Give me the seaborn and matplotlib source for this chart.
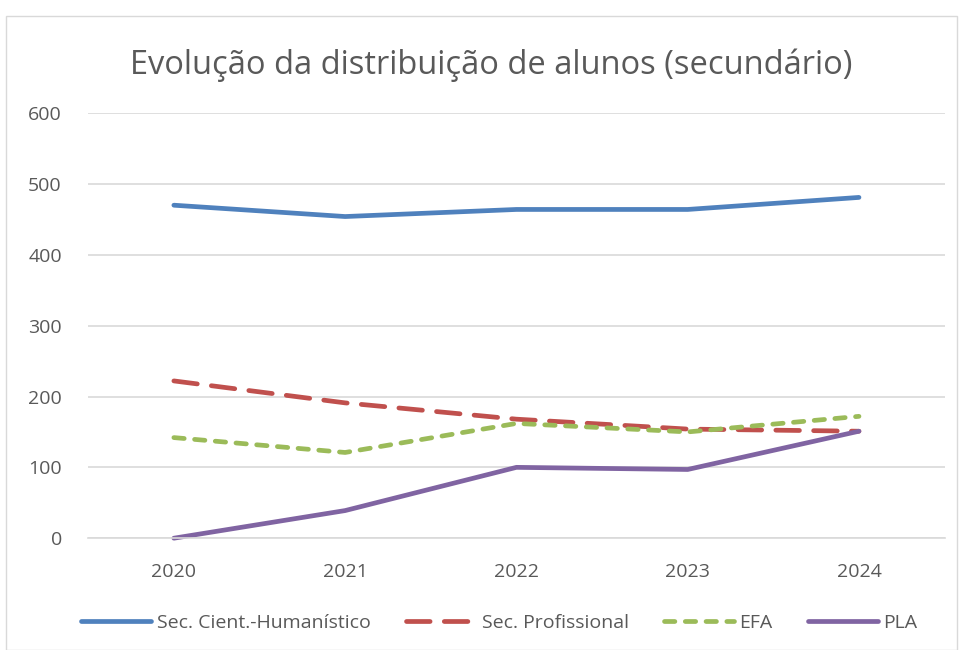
import pandas as pd
import seaborn as sns
import matplotlib.pyplot as plt
from matplotlib.patches import Rectangle

# Data
anos = ['2020', '2021', '2022', '2023', '2024']
cient_humanistico = [470, 454, 464, 464, 481]
profissional = [222, 191, 168, 154, 151]
efa = [142, 121, 162, 150, 172]
pla = [0, 39, 100, 97, 151]

series = ['Sec. Cient.-Humanístico', 'Sec. Profissional', 'EFA', 'PLA']
valores = [cient_humanistico, profissional, efa, pla]
cores = ['#4F81BD', '#C0504D', '#9BBB59', '#8064A2']
tracos = [(None, None), (5, 3), (2.2, 2.2), (None, None)]

rows = []
for nome, vals in zip(series, valores):
    for i, v in enumerate(vals):
        rows.append({'Ano': anos[i], 'x': i, 'Alunos': v, 'Serie': nome})
df = pd.DataFrame(rows)

sns.set_style('white')
plt.rcParams['font.family'] = ['Open Sans', 'DejaVu Sans']
texto = '#595959'

fig = plt.figure(figsize=(9.59, 6.5), dpi=100)
ax = fig.add_axes([0.092, 0.172, 0.893, 0.654])

for nome, cor, tr in zip(series, cores, tracos):
    sub = df[df['Serie'] == nome]
    sns.lineplot(x='x', y='Alunos', data=sub, color=cor, linewidth=3.4,
                 label=nome, ax=ax)
    line = ax.get_lines()[-1]
    if tr[0] is not None:
        line.set_dashes(tr)
        line.set_dash_capstyle('round')
    line.set_solid_capstyle('round')
    line.set_clip_on(False)

ax.set_xlim(-0.5, 4.5)
ax.set_ylim(0, 600)
ax.set_xticks(range(len(anos)))
ax.set_xticklabels(anos)
ax.set_yticks(range(0, 601, 100))
ax.yaxis.grid(True, color='#D9D9D9', linewidth=1.2)
ax.set_axisbelow(True)
for s in ['top', 'right', 'left']:
    ax.spines[s].set_visible(False)
ax.spines['bottom'].set_color('#D9D9D9')
ax.spines['bottom'].set_linewidth(1.2)
ax.tick_params(axis='both', length=0, labelsize=14, colors=texto)
ax.tick_params(axis='x', pad=18)
ax.tick_params(axis='y', pad=19)
ax.set_xlabel('')
ax.set_ylabel('')

fig.text(0.512, 0.899, 'Evolução da distribuição de alunos (secundário)',
         fontsize=23.5, color=texto, ha='center', va='center')

leg = ax.legend(loc='center', bbox_to_anchor=(0.48, -0.2), ncol=4,
                frameon=False, fontsize=14, handlelength=3.6, columnspacing=1.8,
                handletextpad=0.3)
for t in leg.get_texts():
    t.set_color(texto)

fig.patches.append(Rectangle((0.006, 0.0), 0.992, 0.975, transform=fig.transFigure,
                             fill=False, edgecolor='#D9D9D9', linewidth=1))

fig.savefig('out.png', dpi=100)
